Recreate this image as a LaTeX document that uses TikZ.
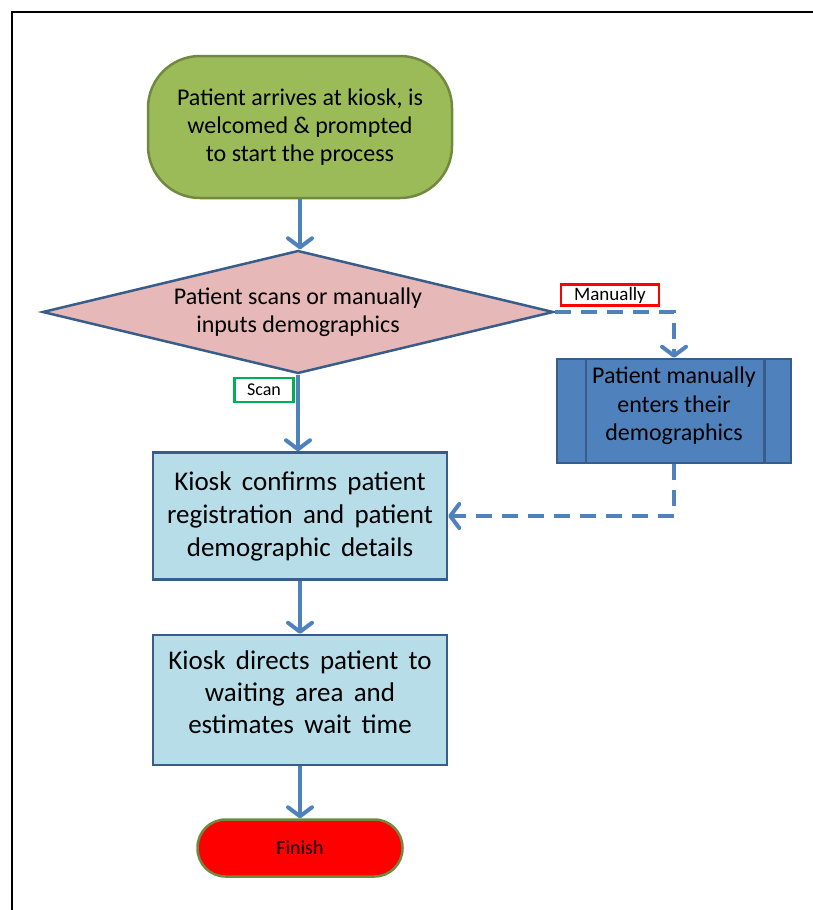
\documentclass[tikz,border=0pt]{standalone}
\usepackage{fontspec}
\setmainfont{Carlito}
\usetikzlibrary{shapes.geometric,arrows.meta,calc}
\definecolor{startfill}{HTML}{9BBB59}
\definecolor{startline}{HTML}{71893F}
\definecolor{decfill}{HTML}{E6B9B8}
\definecolor{boxline}{HTML}{385D8A}
\definecolor{conn}{HTML}{4F81BD}
\definecolor{procfill}{HTML}{B7DDE8}
\definecolor{greenlab}{HTML}{00B050}
\newcommand\mywidespace{\spaceskip=0.38em plus 0.1em\relax}
\begin{document}
\begin{tikzpicture}[x=1pt,y=-1pt,
  every node/.style={inner sep=0pt, align=center, text=black},
  terminal/.style={rectangle, rounded corners=52pt, fill=startfill, draw=startline, line width=2.5pt},
  decision/.style={diamond, aspect=4.15, fill=decfill, draw=boxline, line width=2.5pt},
  procbox/.style={rectangle, fill=procfill, draw=boxline, line width=2.5pt},
  predef/.style={rectangle, fill=conn, draw=boxline, line width=2.5pt},
  labelbox/.style={rectangle, fill=white, line width=2.5pt},
  arr/.style={draw=conn, line width=4pt, -{Straight Barb[length=9pt,width=24pt,line cap=round,line join=round]}},
  dashconn/.style={arr, dash pattern=on 16pt off 10pt}
]
\useasboundingbox (0,0) rectangle (813,910);
\draw[line width=2.5pt] (12,912) -- (12,12) -- (815,12);

\node[terminal, minimum width=304pt, minimum height=142pt,
      font=\fontsize{24}{28}\selectfont] (start) at (300,127)
  {Patient arrives at kiosk, is\\welcomed \& prompted\\to start the process};

\node[decision, minimum width=511pt, minimum height=123pt,
      font=\fontsize{24}{28}\selectfont] (dec) at (298,312)
  {Patient scans or manually\\inputs demographics};

\node[labelbox, draw=red, minimum width=98pt, minimum height=21pt,
      font=\fontsize{19}{20}\selectfont] (lman) at (610,295) {Manually};

\node[labelbox, draw=greenlab, minimum width=59pt, minimum height=24pt,
      font=\fontsize{18}{20}\selectfont] (lscan) at (264,390) {Scan};

\node[predef, minimum width=234pt, minimum height=104pt] (man) at (674,411) {};
\draw[draw=boxline, line width=2.5pt] ([xshift=30pt]man.north west) -- ([xshift=30pt]man.south west);
\draw[draw=boxline, line width=2.5pt] ([xshift=-28pt]man.north east) -- ([xshift=-28pt]man.south east);
\node[font=\fontsize{24}{28.5}\selectfont] (mant) at ([yshift=5pt]man.center)
  {Patient manually\\enters their\\demographics};

\node[procbox, minimum width=294pt, minimum height=127pt,
      font=\fontsize{27}{33}\selectfont\mywidespace] (k1) at (300,516)
  {Kiosk confirms patient\\registration and patient\\demographic details};

\node[procbox, minimum width=294pt, minimum height=130pt] (k2) at (300,700) {};
\node[font=\fontsize{27}{32}\selectfont\mywidespace] (k2t) at ([yshift=8pt]k2.center)
  {Kiosk directs patient to\\waiting area and\\estimates wait time};

\node[rectangle, rounded corners=28pt, fill=red, draw=startline, line width=2.5pt,
      minimum width=205pt, minimum height=57pt,
      font=\fontsize{20}{22}\selectfont] (fin) at (300,848) {Finish};

\draw[arr] (start.south) -- (start.south |- dec.north);
\draw[dashconn] (dec.east) -| (man.north);
\draw[arr] (dec.south) -- (dec.south |- k1.north);
\draw[dashconn] (man.south) |- (k1.east);
\draw[arr] (k1.south) -- (k2.north);
\draw[arr] (k2.south) -- (fin.north);
\end{tikzpicture}
\end{document}
